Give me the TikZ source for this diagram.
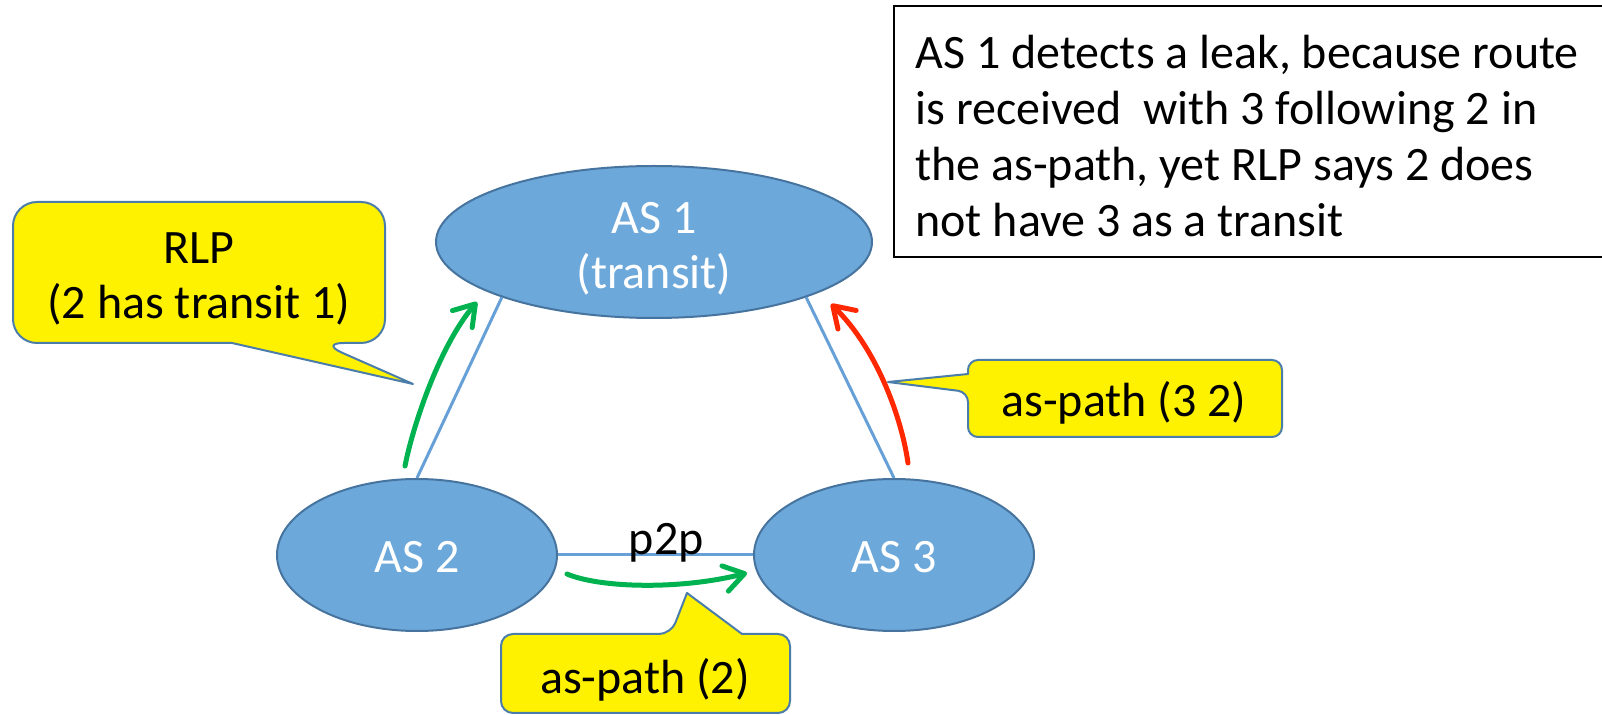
\documentclass[tikz,border=0pt]{standalone}
\usepackage{fontspec}
\setmainfont{Carlito}
\usetikzlibrary{arrows.meta,shapes.geometric}
\definecolor{asfill}{RGB}{108,168,218}
\definecolor{asedge}{RGB}{70,116,158}
\definecolor{linkblue}{RGB}{102,160,214}
\definecolor{okgreen}{RGB}{0,178,80}
\definecolor{leakred}{RGB}{255,40,0}
\definecolor{calloutedge}{RGB}{75,125,170}

\begin{document}
\begin{tikzpicture}[x=0.5pt,y=-0.5pt,
  font=\fontsize{24pt}{27.5pt}\selectfont,
  asnode/.style={ellipse, draw=asedge, line width=1pt, fill=asfill,
    text=white, inner sep=0pt, align=center},
  link/.style={draw=linkblue, line width=1.5pt},
  flow/.style={line width=2.5pt, line cap=round,
    -{Straight Barb[length=10pt,width=13pt,line cap=round,line join=round]}},
  callout/.style={fill=yellow, draw=calloutedge, line width=1pt, line join=round},
  note/.style={inner sep=0pt, text=black}
]
\useasboundingbox (0,0) rectangle (1602,715);

% explanation box (runs off the right edge)
\draw[line width=1pt] (894,6) rectangle (1625,257);
\node[note, align=left, anchor=north west,
      font=\fontsize{24pt}{28pt}\selectfont] (leaktext) at (915,35)
  {AS 1 detects a leak, because route\\
   is received\ \ with 3 following 2 in\\
   the as-path, yet RLP says 2 does\\
   not have 3 as a transit};

% autonomous systems
\node[asnode, minimum width=218pt, minimum height=76pt] (as1) at (654,242)
  {\rule{0pt}{22pt}AS 1\\(transit)};
\node[asnode, minimum width=140pt, minimum height=76pt,
      text height=18pt, text depth=0pt] (as2) at (417,555) {AS 2};
\node[asnode, minimum width=140pt, minimum height=76pt,
      text height=18pt, text depth=0pt] (as3) at (894,555) {AS 3};

% links between the systems
\draw[link] (as2.north) -- (as1.200);
\draw[link] (as3.north) -- (as1.340);
\draw[link] (as2.east) -- node[note, anchor=base, pos=0.555] (p2p) {p2p} (as3.west);

% route announcements
\coordinate (g1s) at (405,466);
\coordinate (g1e) at (477,302);
\coordinate (g2s) at (567,574);
\coordinate (g2e) at (747,573);
\coordinate (r1s) at (908,463);
\coordinate (r1e) at (831,304);
\draw[flow, okgreen] (g1s) .. controls (413,425) and (440,345) .. (g1e);
\draw[flow, okgreen] (g2s) .. controls (600,588) and (680,590) .. (g2e);
\draw[flow, leakred] (r1s) .. controls (902,420) and (878,350) .. (r1e);

% callouts
\draw[callout] (232,343) [rounded corners=12pt] -- (13,343) -- (13,202)
  -- (385,202) -- (385,343) -- (320,343) [sharp corners] -- (413,384) -- cycle;
\node[note, align=center] (rlp) at (199,278.5) {RLP\\(2 has transit 1)};

\draw[callout] (968,374) [rounded corners=5pt] -- (968,360) -- (1282,360)
  -- (1282,437) -- (968,437) -- (968,392) [sharp corners] -- (888,382) -- cycle;
\node[note, anchor=base] (asp32) at (1124,417) {as-path (3 2)};

\draw[callout] (742,634) [rounded corners=6pt] -- (790,634) -- (790,713)
  -- (501,713) -- (501,634) -- (671,634) [sharp corners] -- (687,593) -- cycle;
\node[note, anchor=base] (asp2) at (645,694) {as-path (2)};
\end{tikzpicture}
\end{document}
